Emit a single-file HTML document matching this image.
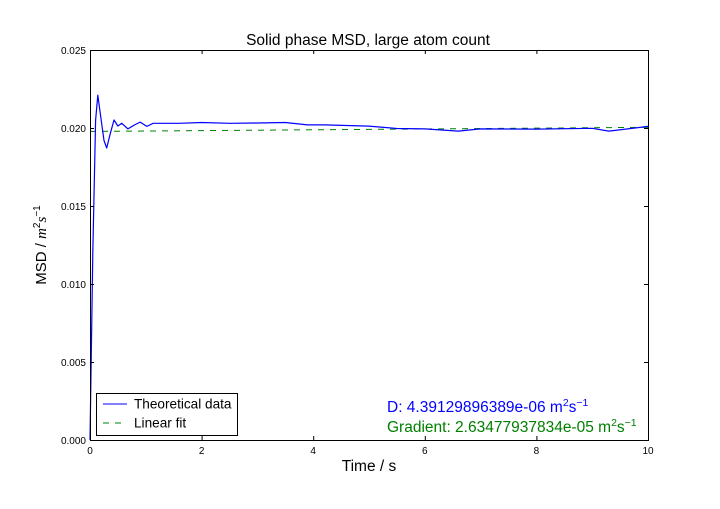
<!DOCTYPE html>
<html><head><meta charset="utf-8"><style>
body{margin:0;background:#fff;}
svg{font-family:"Liberation Sans",sans-serif;}
</style></head><body>
<svg width="720" height="504">
<rect width="720" height="504" fill="#fff"/>
<g id="plot"></g>
<text x="368" y="45" text-anchor="middle" font-size="15.5">Solid phase MSD, large atom count</text>
<text x="369" y="471" text-anchor="middle" font-size="15.5">Time / s</text>
<text transform="translate(46,245) rotate(-90)" text-anchor="middle" font-size="15">MSD / <tspan font-style="italic" font-family="Liberation Serif">m</tspan><tspan font-size="10" dy="-6">2</tspan><tspan font-style="italic" font-family="Liberation Serif" dy="6">s</tspan><tspan font-size="10" dy="-6">−1</tspan></text>
<text x="387" y="412" font-size="15.5" fill="#0000ff">D: 4.39129896389e-06 m<tspan font-size="10.5" dy="-6">2</tspan><tspan dy="6">s</tspan><tspan font-size="10.5" dy="-6">−1</tspan></text>
<text x="387" y="432" font-size="15.5" fill="#008000">Gradient: 2.63477937834e-05 m<tspan font-size="10.5" dy="-6">2</tspan><tspan dy="6">s</tspan><tspan font-size="10.5" dy="-6">−1</tspan></text>
<g>
<rect x="96.5" y="393.5" width="141" height="42" fill="#fff" stroke="#000"/>
<line x1="103" y1="404" x2="127" y2="404" stroke="#0000ff"/>
<text x="134" y="408.5" font-size="13.6">Theoretical data</text>
<line x1="103" y1="423" x2="127" y2="423" stroke="#008000" stroke-dasharray="6,6"/>
<text x="134" y="427.5" font-size="13.6">Linear fit</text>
</g>
</svg>
<script>
const times=[0,0.05,0.1,0.14,0.2,0.25,0.3,0.36,0.43,0.5,0.57,0.68,0.8,0.9,1.02,1.13,1.3,1.6,2,2.5,3,3.5,3.9,4.2,5,5.5,6,6.6,7,8,9,9.3,10];
const msd=[0,0.012,0.0205,0.0221,0.0205,0.0192,0.01872,0.0196,0.02051,0.02013,0.0203,0.01994,0.0202,0.02038,0.0201,0.0203,0.0203,0.0203,0.02035,0.0203,0.02032,0.02035,0.0202,0.0202,0.02012,0.01997,0.01994,0.0198,0.01994,0.01993,0.01998,0.0198,0.0201];
const fitIntercept=0.01978;
const fitSlope=2.63477937834e-5;
const xTicks=[0,2,4,6,8,10];
const yTicks=[0,0.005,0.010,0.015,0.020,0.025];
const yTickLabels=["0.000","0.005","0.010","0.015","0.020","0.025"];
const X0=90,X1=648,Y0=440,Y1=50;
const sx=t=>X0+(t/10)*(X1-X0);
const sy=v=>Y0-(v/0.025)*(Y0-Y1);
const NS="http://www.w3.org/2000/svg";
const g=document.getElementById('plot');
function mk(tag,attrs){const e=document.createElementNS(NS,tag);for(const k in attrs)e.setAttribute(k,attrs[k]);g.appendChild(e);return e;}
let d='';
for(let i=0;i<times.length;i++){d+=(i?'L':'M')+sx(times[i]).toFixed(1)+','+sy(msd[i]).toFixed(1);}
const fitLine=mk('line',{x1:sx(0),y1:sy(fitIntercept),x2:sx(10),y2:sy(fitIntercept+fitSlope*10),stroke:'#008000','stroke-dasharray':'6,6'});


const curve=mk('path',{d:d,fill:'none',stroke:'#0000ff','stroke-width':1.2,'stroke-linejoin':'round'});


const frame=mk('rect',{x:X0+0.5,y:Y1+0.5,width:X1-X0,height:Y0-Y1,fill:'none',stroke:'#000'});


xTicks.forEach(t=>{
 const x=sx(t)+0.5;
 mk('line',{x1:x,y1:Y0,x2:x,y2:Y0-4,stroke:'#000'});
 mk('line',{x1:x,y1:Y1,x2:x,y2:Y1+4,stroke:'#000'});
 const tx=mk('text',{x:sx(t),y:Y0+14,'text-anchor':'middle','font-size':10});
 tx.textContent=t;
 
 
});
yTicks.forEach((v,i)=>{
 const y=sy(v)+0.5;
 mk('line',{x1:X0,y1:y,x2:X0+4,y2:y,stroke:'#000'});
 mk('line',{x1:X1,y1:y,x2:X1-4,y2:y,stroke:'#000'});
 const tx=mk('text',{x:X0-4,y:sy(v)+4,'text-anchor':'end','font-size':10});
 tx.textContent=yTickLabels[i];
 
 
});
</script>
</body></html>
